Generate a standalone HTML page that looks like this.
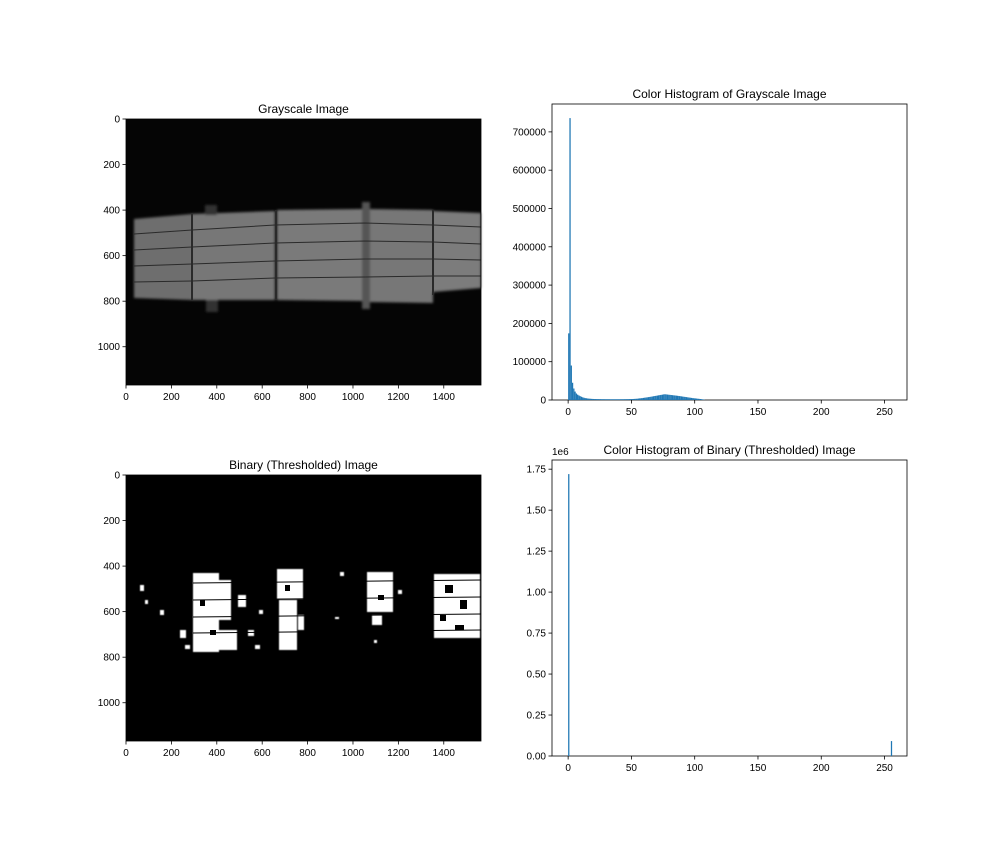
<!DOCTYPE html>
<html><head><meta charset="utf-8"><style>
html,body{margin:0;padding:0;background:#fff;}
svg{display:block;font-family:"Liberation Sans","DejaVu Sans",sans-serif;}
</style></head><body>
<svg id="fig" width="1008" height="864" viewBox="0 0 1008 864" xmlns="http://www.w3.org/2000/svg">
<rect width="1008" height="864" fill="#fff"/>
<defs>
<filter id="blur1"><feGaussianBlur stdDeviation="1.2"/></filter>
<filter id="blur2"><feGaussianBlur stdDeviation="0.5"/></filter>
</defs>
<!-- Grayscale image -->
<g>
<rect x="126" y="119" width="355" height="266" fill="#050505"/>
<g filter="url(#blur1)">
<path d="M134,219 L192,214 L192,300 L134,298 Z" fill="#6e6e6e"/>
<path d="M192,214 L275,211 L275,300 L192,300 Z" fill="#777"/>
<path d="M277,210 L365,209 L365,301 L277,300 Z" fill="#7a7a7a"/>
<path d="M365,209 L433,210 L433,303 L365,302 Z" fill="#777"/>
<path d="M433,211 L481,213 L481,288 L433,292 Z" fill="#7c7c7c"/>
<rect x="362" y="202" width="8" height="107" fill="#555"/>
<rect x="205" y="205" width="12" height="10" fill="#333"/>
<rect x="206" y="300" width="12" height="12" fill="#333"/>
</g>
<g stroke="#2a2a2a" stroke-width="1" fill="none">
<path d="M134,234 L192,230 L275,225 L365,223 L433,225 L481,227"/>
<path d="M134,250 L192,247 L275,243 L365,241 L433,242 L481,244"/>
<path d="M134,266 L192,264 L275,261 L365,259 L433,259 L481,260"/>
<path d="M134,282 L192,281 L275,278 L365,277 L433,276 L481,276"/>
<line x1="192" y1="214" x2="192" y2="300" stroke-width="2"/>
<line x1="276" y1="210" x2="276" y2="300" stroke-width="2"/>
<line x1="433" y1="210" x2="433" y2="295" stroke-width="2"/>
</g>
</g>
<!-- Binary image -->
<g>
<rect x="126" y="475" width="355" height="266" fill="#000"/>
<g fill="#fff" filter="url(#blur2)">
<rect x="193" y="573" width="26" height="79"/>
<rect x="219" y="580" width="12" height="40"/>
<rect x="219" y="630" width="18" height="20"/>
<rect x="238" y="595" width="8" height="12"/>
<rect x="277" y="569" width="26" height="30"/>
<rect x="279" y="600" width="18" height="50"/>
<rect x="298" y="615" width="6" height="15"/>
<rect x="367" y="572" width="26" height="40"/>
<rect x="372" y="615" width="10" height="10"/>
<rect x="434" y="574" width="46" height="64"/>
<rect x="140" y="585" width="4" height="6"/>
<rect x="145" y="600" width="3" height="4"/>
<rect x="160" y="610" width="4" height="5"/>
<rect x="180" y="630" width="6" height="8"/>
<rect x="185" y="645" width="5" height="4"/>
<rect x="248" y="630" width="6" height="6"/>
<rect x="255" y="645" width="5" height="4"/>
<rect x="259" y="610" width="4" height="4"/>
<rect x="340" y="572" width="4" height="4"/>
<rect x="398" y="590" width="4" height="4"/>
<rect x="374" y="640" width="3" height="3"/>
<rect x="335" y="617" width="4" height="2"/>
</g>
<g fill="#000">
<rect x="445" y="585" width="8" height="8"/><rect x="460" y="600" width="7" height="9"/>
<rect x="440" y="615" width="6" height="6"/><rect x="455" y="625" width="9" height="5"/>
<rect x="200" y="600" width="5" height="6"/><rect x="210" y="630" width="6" height="5"/>
<rect x="285" y="585" width="5" height="6"/><rect x="378" y="595" width="6" height="5"/>
</g>
<g stroke="#000" stroke-width="1">
<line x1="193" y1="583" x2="481" y2="580"/><line x1="193" y1="600" x2="481" y2="597"/>
<line x1="193" y1="617" x2="481" y2="614"/><line x1="193" y1="633" x2="481" y2="630"/>
</g>
</g>
<g id="charts"></g>
</svg>
<script>
// Grayscale histogram counts, bins 0..107 (bins beyond are empty)
const grayCounts = [174000,736000,90000,45000,30000,22000,17000,14000,12000,10000,8500,7000,6000,5000,4500,4000,3600,3300,3000,2800,2600,
2500,2400,2400,2300,2300,2200,2200,2200,2100,2100,2100,2100,2000,2000,2000,2000,2000,2000,2000,2000,2100,2100,2100,2200,2200,2300,2300,2400,2500,2600,2700,2900,3100,3400,
3800,4200,4600,5000,5500,6000,6500,7000,7500,8000,8600,9200,9800,10400,11000,11600,12200,12800,13400,14000,14600,15000,14600,14200,13800,13400,13000,12600,12200,11800,11400,11000,10500,10000,9500,9000,8500,8000,7500,7000,6500,6000,5500,5000,4600,4200,3800,3400,3000,2600,2200,1600,800];
const binaryBins = [0, 255];
const binaryCounts = [1720000, 91000];
const histXTicks = [0, 50, 100, 150, 200, 250];
const grayYTicks = [0,100000,200000,300000,400000,500000,600000,700000];
const binYTicks = [0,250000,500000,750000,1000000,1250000,1500000,1750000];
const binYLabels = ["0.00","0.25","0.50","0.75","1.00","1.25","1.50","1.75"];
const imgXTicks = [0,200,400,600,800,1000,1200,1400];
const imgYTicks = [0,200,400,600,800,1000];

const NS = "http://www.w3.org/2000/svg";
const root = document.getElementById('charts');
function mk(tag, attrs, parent, text){
  const e = document.createElementNS(NS, tag);
  for (const k in attrs) e.setAttribute(k, attrs[k]);
  if (text !== undefined) e.textContent = text;
  parent.appendChild(e); return e;
}
function axes(name, L, T, W, H, xlim, ylim, xt, xl, yt, yl, title){
  const g = mk('g', {}, root);
  
  
  const sx = v => L + (v - xlim[0]) / (xlim[1] - xlim[0]) * W;
  const sy = v => T + (v - ylim[0]) / (ylim[1] - ylim[0]) * H;
  const frame = mk('rect', {x:L, y:T, width:W, height:H, fill:'none', stroke:'#000', 'stroke-width':0.8}, g);
  
  
  const xg = mk('g', {}, g);
  
  
  xt.forEach((v, i) => {
    const x = sx(v);
    mk('line', {x1:x, x2:x, y1:T+H, y2:T+H+3.5, stroke:'#000', 'stroke-width':0.8}, xg);
    const t = mk('text', {x:x, y:T+H+15, 'font-size':10, 'text-anchor':'middle', fill:'#000'}, xg, xl[i]);
    
    
  });
  const yg = mk('g', {}, g);
  
  
  yt.forEach((v, i) => {
    const y = sy(v);
    mk('line', {x1:L-3.5, x2:L, y1:y, y2:y, stroke:'#000', 'stroke-width':0.8}, yg);
    const t = mk('text', {x:L-6, y:y+3.5, 'font-size':10, 'text-anchor':'end', fill:'#000'}, yg, yl[i]);
    
    
  });
  const tt = mk('text', {x:L+W/2, y:T-6, 'font-size':12, 'text-anchor':'middle', fill:'#000'}, g, title);
  
  
  return {g, sx, sy};
}
function bars(ax, bins, counts){
  const bg = mk('g', {fill:'#1f77b4'}, ax.g);
  
  
  counts.forEach((c, i) => {
    const b = bins[i];
    const x0 = ax.sx(b), x1 = ax.sx(b + 1);
    const y0 = ax.sy(c), y1 = ax.sy(0);
    const r = mk('rect', {x:x0, y:y0, width:Math.max(x1-x0, 0.8), height:y1-y0}, bg);
    
    
  });
}
// image axes (ticks/labels only; image content drawn above)
axes('grayscale-image-axes', 126, 119, 355, 266, [0,1564], [0,1168], imgXTicks, imgXTicks.map(String), imgYTicks, imgYTicks.map(String), 'Grayscale Image');
axes('binary-image-axes', 126, 475, 355, 266, [0,1564], [0,1168], imgXTicks, imgXTicks.map(String), imgYTicks, imgYTicks.map(String), 'Binary (Thresholded)  Image');
// histograms
const grayBins = grayCounts.map((c, i) => i);
const a1 = axes('grayscale-histogram', 552, 104, 355, 296, [-12.75,267.75], [772800,0], histXTicks, histXTicks.map(String), grayYTicks, grayYTicks.map(String), 'Color Histogram of Grayscale Image');
bars(a1, grayBins, grayCounts);
const a2 = axes('binary-histogram', 552, 460, 355, 296, [-12.75,267.75], [1806000,0], histXTicks, histXTicks.map(String), binYTicks, binYLabels, 'Color Histogram of Binary (Thresholded) Image');
bars(a2, binaryBins, binaryCounts);
const off = mk('text', {x:552, y:455, 'font-size':10, 'text-anchor':'start', fill:'#000'}, a2.g, '1e6');


</script>
</body></html>
